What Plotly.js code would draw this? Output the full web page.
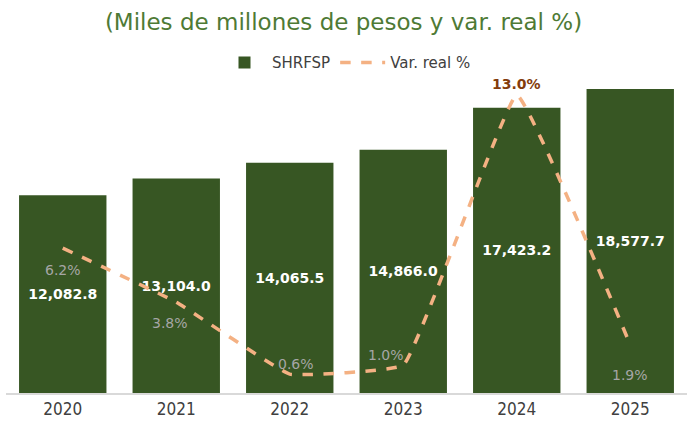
<!DOCTYPE html>
<html><head><meta charset="utf-8">
<script src="https://cdn.plot.ly/plotly-3.0.1.min.js"></script>
<style>html,body{margin:0;padding:0;background:#fff}#c{width:687px;height:428px}</style>
</head><body><div id="c"></div>
<script>
const years = ["2020","2021","2022","2023","2024","2025"];
const shrfsp = [12082.8, 13104.0, 14065.5, 14866.0, 17423.2, 18577.7];
const shrfspLabels = ["12,082.8","13,104.0","14,065.5","14,866.0","17,423.2","18,577.7"];
const varReal = [6.2, 3.8, 0.6, 1.0, 13.0, 1.9];
const varLabels = ["6.2%","3.8%","0.6%","1.0%","13.0%","1.9%"];
const varLabelColor = ["#A6A6A6","#A6A6A6","#A6A6A6","#A6A6A6","#843C0C","#A6A6A6"];
const varLabelBold = [false,false,false,false,true,false];
// label offsets (pixels) relative to each point
const labelYShift = [-22,-21,10,10,11,-30];
const labelXShift = [0,-6,6,-17,0,0];

const font = "'DejaVu Sans', 'Century Gothic', sans-serif";
const traces = [
  {type:"bar", x:years, y:shrfsp, name:"SHRFSP", marker:{color:"#375623"},
   text:shrfspLabels, textposition:"inside", insidetextanchor:"middle", texttemplate:"<b>%{text}</b>",
   textfont:{color:"#FFFFFF", size:14, family:font}, hoverinfo:"none"},
  {type:"scatter", mode:"lines", x:years, y:varReal, yaxis:"y2", name:"Var. real %",
   line:{color:"#F4B183", width:3.5, dash:"dash", shape:"spline", smoothing:0.25},
   cliponaxis:false, hoverinfo:"none"}
];
const annotations = years.map((yr,i)=>({
  x:i, y:varReal[i], xref:"x", yref:"y2", showarrow:false,
  text: varLabelBold[i] ? "<b>"+varLabels[i]+"</b>" : varLabels[i],
  font:{family:font, size:14, color:varLabelColor[i]},
  xshift:labelXShift[i], yshift:labelYShift[i]
}));
const layout = {
  width:687, height:428,
  margin:{l:6, r:0, t:80, b:35},
  paper_bgcolor:"#fff", plot_bgcolor:"#fff",
  title:{text:"(Miles de millones de pesos y var. real %)", x:0.5, xanchor:"center", y:0.948, yanchor:"middle",
         font:{family:font, size:23, color:"#4E7A35"}},
  bargap:0.23,
  showlegend:true,
  legend:{orientation:"h", x:0.5, xanchor:"center", y:1.055, yanchor:"middle",
          font:{family:font, size:15, color:"#404040"}, traceorder:"normal", itemwidth:45},
  annotations:annotations,
  xaxis:{type:"category", range:[-0.5,5.5], autorange:false, showgrid:false, showline:true, linecolor:"#D9D9D9", linewidth:1.5,
         ticks:"", tickfont:{family:"'Liberation Sans Narrow', 'DejaVu Sans Condensed', sans-serif", size:17, color:"#404040"}},
  yaxis:{range:[0,19124], visible:false, showgrid:false, zeroline:false},
  yaxis2:{range:[-0.24,13.67], overlaying:"y", side:"right", visible:false, showgrid:false, zeroline:false}
};
Plotly.newPlot("c", traces, layout, {displayModeBar:false, staticPlot:true});
</script></body></html>
